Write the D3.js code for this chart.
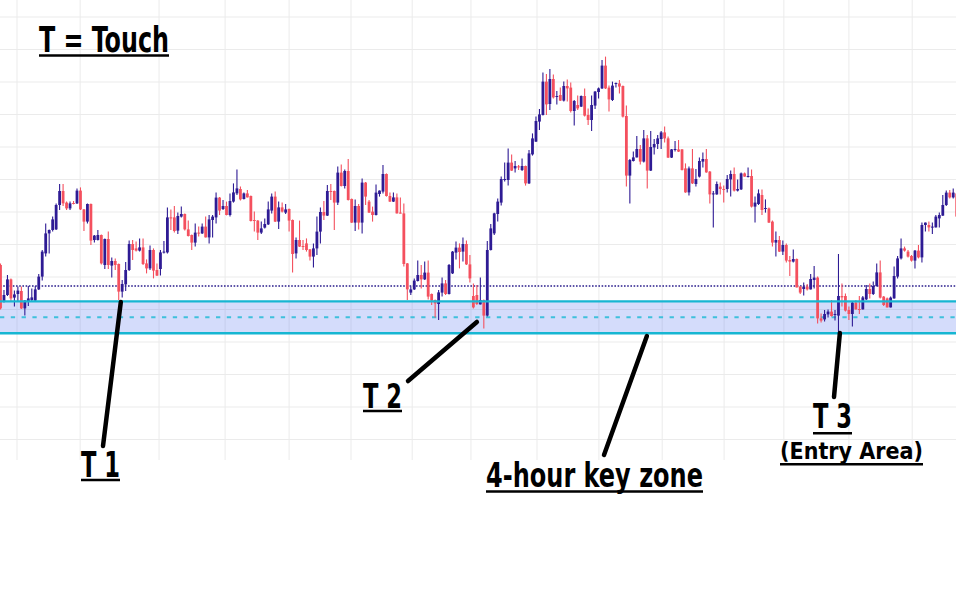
<!DOCTYPE html>
<html><head><meta charset="utf-8">
<script src="https://cdn.jsdelivr.net/npm/d3@7"></script>
<style>html,body{margin:0;padding:0;background:#fff;overflow:hidden}</style>
</head><body><svg id="chart" width="956" height="598"></svg>
<script>
// ---- DATA (prices as pips above BASE) ----
const BASE = 1.1000, PIP = 0.0001;
const opens = [87.5,69.2,72.5,80.3,71.2,73,74.5,65.8,69.2,70,
69.7,75.3,81.7,93.3,103.3,105,105.3,117.5,124.5,118.7,
115.8,118.5,118.3,124.7,115.3,109.2,118,100,100,102.5,
87.5,100.5,87.2,89.5,88,74.2,77.8,85,98,95.8,
94.7,96.3,88.3,85.8,95,85,85.5,93.8,93.8,111.3,
111.3,104.7,111.7,113,105.3,102.5,98.7,103.7,103.3,106.7,
101.3,110,111.3,121.2,115.5,117,112.5,119.2,123.3,125.5,
120.5,123.3,122,110,109.7,103.7,106.2,107.8,114.7,121.7,
109.2,116.3,113.7,115.5,110,93.3,100,97,98.3,95.3,
91.7,95.8,104.2,114,112.2,124.5,124.5,118.7,133.7,127,
134.5,120.5,108.7,117,108.7,128.7,119.2,114.2,112.5,123,
124.2,133,122,119.2,121.3,113.7,113.3,88.3,73.7,75.3,
79.5,82.5,80.3,83.7,73,70,68,73.7,78.3,73,
83.3,93.7,96.2,94.2,98,87.8,72,72.5,67.8,70,
62.2,95,103.3,113,118.7,130,130,138.7,135.8,136.8,
135,137,128.3,142.8,149.2,159.2,162.5,179.2,168,180.5,
171.5,172.5,169.7,177,176.2,164.5,167.5,166.7,172,162.5,
160,167.2,174,175.8,187.2,176.2,170,178.2,178.3,177,
162,132.2,139.5,141.3,145.5,139.2,150.8,134.7,146.3,148,
150.5,153.8,150.8,141.2,145.2,145.3,145.3,135.8,123.8,135.8,
128,131.7,139.2,140.5,134.2,122.8,122.8,126.7,125.5,125.5,
130.3,133,124.7,125.3,133.3,131.7,132,116.7,118,122.5,
115.7,115.8,109.2,98.7,100,94.2,97.5,90,89.2,90.5,
76.7,75.5,76.7,75.3,80,81.2,60.8,60.3,62.8,64.2,
62.5,62.2,72,72,65,63,68.7,65.5,65.3,70.3,
75.5,73,77,83.8,71.7,70.8,66.3,70.8,81.7,90.8,
95.8,94.2,92,89.7,94.7,91.3,107.5,107.5,106.3,106.3,
110.8,112.2,117.5,123.7,121.3,123.3];
const highs = [88.3,75,82.5,80.8,74.7,76.7,76.7,70,77,75.8,
77,83,95,108.3,105.2,111.7,118.3,128,128,119.2,
119.2,119.5,125.8,126.3,115.5,118.3,118.3,102.5,105,102.8,
100.8,104.2,91.3,90.8,88.3,80,89,99.7,100,99.2,
100.8,100.8,90.3,97.2,95.8,88.3,95,99.5,116.3,115.3,
117,113.8,116.7,113.2,109.7,102.7,108.3,106.7,108.3,111.7,
112.5,112.5,123.8,121.5,120,119.2,123.3,128.3,135.3,126.7,
123.8,125,122.2,114.2,110,109.2,110.8,119.2,123.3,124.2,
119.2,118.8,118,115.7,110.2,101.3,109.7,100,100.8,95.5,
98.3,111.7,116.3,119.5,127.5,128,124.7,136.7,137.8,135.3,
140.5,120.8,120.3,118,130.8,129,120,116.7,127.8,124.8,
137.5,133.3,123.7,123.7,123.3,121.3,118.3,88.5,76.7,80.8,
89.7,87.5,89.2,89.7,73.3,70.2,75,81.2,80,88,
94.5,99.2,98.3,101.3,99.7,92.5,78.3,77.5,81.3,70.3,
99.5,108,113.6,120.8,131.7,138.8,145.8,142.8,139.5,137.5,
140.8,137.2,145,153.3,161.7,165.5,183.8,183,185.5,182.8,
174.5,176.2,179.2,180.3,178.8,170,172.2,172.2,175.8,165.8,
172.2,174.5,176.2,190,191.7,177.2,179.2,178.8,180,177.2,
167.2,140.5,144.2,152,147.5,155,152.5,154.5,150.5,152.5,
154.5,156.7,151.7,145.5,149.5,150,145.5,138.3,136.7,145.5,
135.5,141.2,143.8,145.5,134.5,124.5,129.2,128.8,127.2,132.5,
134.7,136.3,130.3,133.7,133.7,136.3,135.3,121.7,125.3,125.3,
120.3,116.3,109.7,104.2,102,99.7,98.3,92,95.3,90.8,
77,78.7,78,83,87,81.7,63.3,65,65.3,70,
65,93,78.3,73.3,66.7,69.2,70,72,72,77.5,
78.3,79.2,88.3,89.7,72,71.3,71.7,86.7,92,100.8,
96.7,95,92.5,95,97.5,108.7,108.8,109.2,108.7,112.5,
113.7,122.5,124.7,125,125.8,123.7];
const lows = [65.3,68.7,72,69.2,66.7,69.2,65.5,62.2,67,69.2,
69.5,75,79.7,91.7,93.3,104.2,105,115,117,115,
115,117.8,118,115,104.5,108.3,97.5,98.8,99.8,87.8,
85.5,85.5,81.3,85,70,71.2,74.5,84.5,90,94.2,
94.2,87.5,83.3,85,80.8,82,82.2,93.3,93.3,105,
103.8,103,111.3,104.7,101.8,95,96.7,101.7,103,101.2,
98.3,101.3,108.3,112.5,115,112.3,111.7,118.7,122.5,119.7,
120.3,121.2,109.2,104.2,100,103,105.8,107.5,113.3,109,
105.5,113.7,113,104.2,83.7,90.8,96.5,95,94.2,89.7,
86.2,92.5,98.3,110,112,120,105,117.5,126.7,125.8,
119.8,108.5,104.5,105.3,103.3,117.5,113.5,109.2,112.3,121.7,
123.3,121.7,119,119,113.2,113.2,86.7,70,72.5,75,
79.2,75.8,80,70.3,67.5,61.3,60,71.7,72.5,72.8,
83,90.3,85.8,89.2,87.5,78.7,65.8,67.5,67.7,55.8,
61.7,94.8,102.5,109.2,117.2,129.2,127.2,134.5,133.8,135,
134.5,127.2,128,142.2,149,155,162.3,162.5,165,170.8,
167.8,169.5,169.2,169.2,163.8,157.2,165,166.5,161.7,157.5,
154.5,165.5,170.8,175.5,175.5,164.2,169.5,176.3,173.3,161.2,
126.7,118.3,139.2,141.2,137.8,138.8,125.8,134.5,142.8,145.5,
145.5,148.8,141,141,144.2,144,134.8,123.6,122.2,128,
126.7,131.2,136.2,133.6,118.3,106.2,122.6,122.8,118.8,123.8,
121.7,124.2,124.2,125,131.6,131.3,116.3,108.7,117.5,112.5,
113.7,108.5,96.7,91.7,94,92.5,88.7,82,88.7,76.2,
73,72.2,74.7,75.2,75.8,58.3,58.7,59.2,61.3,61.7,
59.7,53.3,66.7,64.2,60,56.7,65.2,63,65.2,70,
70.8,72.5,76.7,70.8,67,66.2,66.2,70.6,80.8,90.3,
94.2,91.3,89.2,85.8,90.8,88.7,104.2,104.2,103,106.2,
106.3,112,117,120.8,120.8,111.3];
const closes = [65.8,72.5,80.3,70.8,72.8,74.7,65.8,69.7,70.8,71.3,
75.3,81.7,94.2,103.3,105,110.3,117.5,124.5,118.3,115.8,
118.3,118.2,124.7,115.3,109.2,118,99.7,102.2,102.5,88.3,
100.5,87.5,89.5,87.5,74.2,78,85,98,95,94.7,
96.3,88,85.8,95,84.7,82.2,93.8,94.2,111.3,111,
104.5,112,113,105.3,102,98.7,103.7,103.3,106.7,101.3,
110.3,111.7,121.2,114.7,117,112.5,119.5,123.8,125.8,120.3,
123.3,121.3,109.5,109.5,103.7,105.8,108,115.3,121.7,109.2,
116.3,114.2,115.3,109.7,93,100,96.7,96.7,95,91.7,
95.8,104.2,114,112.2,124.5,124,118.7,133.7,127,134.5,
120,108.7,117,108.7,128.7,121.7,113.7,112.5,123.7,124.7,
133,122,119.2,121.3,113.3,113.5,88,75.3,75.3,79.7,
82.5,80.3,83.7,71.7,69.7,68.3,73.8,78.3,73,87.5,
94.2,96.2,94,98,87.8,80.8,66.3,68,70,62.2,
95,105.8,113.3,119.2,130.5,130.5,138.7,134.7,137,136.5,
137,128.3,143.3,150.8,159.5,162.8,179.2,167.8,180.5,171.3,
172,169.7,177,175.8,164.5,169.5,165.8,172,162.2,160,
167.5,174.2,175.8,187.2,175.8,170.3,177.2,178.5,176.7,161.7,
132.2,140,141.3,145.5,139.2,150.8,134.7,146.5,148,150.8,
153.8,150.8,141.2,145.3,145.5,144.2,135,123.8,135.8,128.3,
130.5,139.5,140.5,133.8,122.8,123.3,128,125.5,125.3,130.5,
133,124.7,125.5,133.3,131.7,132,116.7,118.7,123.3,115,
116,108.7,98.7,100,94.2,97.5,89.7,89.2,90.5,76.3,
73.7,76.7,75.3,80.5,81.2,60.8,59.7,63,64.2,62,
63,72,71.3,64.7,63,68.7,65.3,65.3,71.3,75.5,
73,77,83.8,71.2,67.5,66.3,71.2,82,90.8,95.8,
94.7,91.7,89.7,94.7,91.3,107.5,108.7,106.3,106.7,111.7,
112.5,117.5,123.7,121.3,123.7,111.7];

// key zone & levels (pips above BASE)
const zoneTop = 69.3, zoneBottom = 53.4;
const dottedLevel = 77;
// vertical grid (session boundaries) in candle-slot units
const gridSlots = [4.75,22.9,45.6,64.6,83,100.8,118.4,135.3,154.3,172.1,190.3,208.1,225.3,244.0,262.2];
const gridPips = d3.range(0.25, 212, 16.25);

// annotations
const labels = [
  {text:"T = Touch",       x:39,  y:51.7,  size:35, w:130, ul:55.5},
  {text:"T 1",             x:81,  y:476.7, size:35, w:39,  ul:480},
  {text:"T 2",             x:363, y:408.3, size:33, w:39,  ul:411},
  {text:"4-hour key zone", x:486, y:486.7, size:33, w:217, ul:491.5},
  {text:"T 3",             x:813, y:428.3, size:33, w:39,  ul:433.3},
  {text:"(Entry Area)",    x:780, y:459,   size:23, w:143, ul:464.3}
];
const pointers = [
  {slot:34.6,  pip:69,   x:103, y:446},
  {slot:137,   pip:59,   x:408, y:381},
  {slot:185.9, pip:52,   x:604, y:455},
  {slot:241.4, pip:53.5, x:834, y:397}
];

// ---- DRAW ----
const W = 956, H = 598;
const svg = d3.select("#chart");
const n = opens.length;
const price = v => BASE + v * PIP;
const x = d3.scaleLinear().domain([0, n - 1]).range([0.5, 956.7]);
const y = d3.scaleLinear().domain([BASE - 10 * PIP, BASE + 220 * PIP]).range([460, 0]);
const UP = "#2e1b94", DOWN = "#f4505e";

// grid
svg.append("g").selectAll("line").data(gridPips).join("line")
  .attr("x1", 0).attr("x2", W)
  .attr("y1", d => y(price(d))).attr("y2", d => y(price(d)))
  .attr("stroke", "#ebebeb").attr("stroke-width", 1);
svg.append("g").selectAll("line").data(gridSlots).join("line")
  .attr("x1", d => x(d)).attr("x2", d => x(d))
  .attr("y1", 0).attr("y2", y(BASE - 10 * PIP))
  .attr("stroke", "#ebebeb").attr("stroke-width", 1);

// zone fill
svg.append("rect")
  .attr("x", 0).attr("width", W)
  .attr("y", y(price(zoneTop)))
  .attr("height", y(price(zoneBottom)) - y(price(zoneTop)))
  .attr("fill", "rgba(100,130,240,0.28)");

// dotted level
svg.append("line").attr("x1", 0).attr("x2", W)
  .attr("y1", y(price(dottedLevel))).attr("y2", y(price(dottedLevel)))
  .attr("stroke", "#2a1d8c").attr("stroke-width", 1.6).attr("stroke-dasharray", "1.6,1.6");

// dashed mid line
const mid = (zoneTop + zoneBottom) / 2;
svg.append("line").attr("x1", 0).attr("x2", W)
  .attr("y1", y(price(mid))).attr("y2", y(price(mid)))
  .attr("stroke", "#3fc0dc").attr("stroke-width", 2).attr("stroke-dasharray", "4.3,6.5");

// candles
const idx = d3.range(n);
const cg = svg.append("g");
cg.selectAll("line").data(idx).join("line")
  .attr("x1", i => x(i)).attr("x2", i => x(i))
  .attr("y1", i => y(price(highs[i]))).attr("y2", i => y(price(lows[i])))
  .attr("stroke", i => closes[i] >= opens[i] ? UP : DOWN).attr("stroke-width", 1.1);
cg.selectAll("rect").data(idx).join("rect")
  .attr("x", i => x(i) - 1.4).attr("width", 2.8)
  .attr("y", i => y(price(Math.max(opens[i], closes[i]))))
  .attr("height", i => Math.max(1, Math.abs(y(price(opens[i])) - y(price(closes[i])))))
  .attr("fill", i => closes[i] >= opens[i] ? UP : DOWN);

// zone borders
[zoneTop, zoneBottom].forEach(v => {
  svg.append("line").attr("x1", 0).attr("x2", W)
    .attr("y1", y(price(v))).attr("y2", y(price(v)))
    .attr("stroke", "#16b6d2").attr("stroke-width", 2.4);
});

// pointers
svg.append("g").selectAll("line").data(pointers).join("line")
  .attr("x1", d => d.x).attr("y1", d => d.y)
  .attr("x2", d => x(d.slot)).attr("y2", d => y(price(d.pip)))
  .attr("stroke", "#000").attr("stroke-width", 4.5).attr("stroke-linecap", "round");

// labels
const lg = svg.append("g");
lg.selectAll("text").data(labels).join("text")
  .attr("x", d => d.x).attr("y", d => d.y)
  .attr("font-family", "'Liberation Sans Narrow','Arial Narrow','DejaVu Sans Condensed',sans-serif")
  .attr("font-weight", 700)
  .attr("font-size", d => d.size)
  .attr("textLength", d => d.w)
  .attr("lengthAdjust", "spacingAndGlyphs")
  .attr("fill", "#000")
  .text(d => d.text);
lg.selectAll("line").data(labels).join("line")
  .attr("x1", d => d.x).attr("x2", d => d.x + d.w)
  .attr("y1", d => d.ul).attr("y2", d => d.ul)
  .attr("stroke", "#000").attr("stroke-width", 2.4);
</script>
</body></html>
